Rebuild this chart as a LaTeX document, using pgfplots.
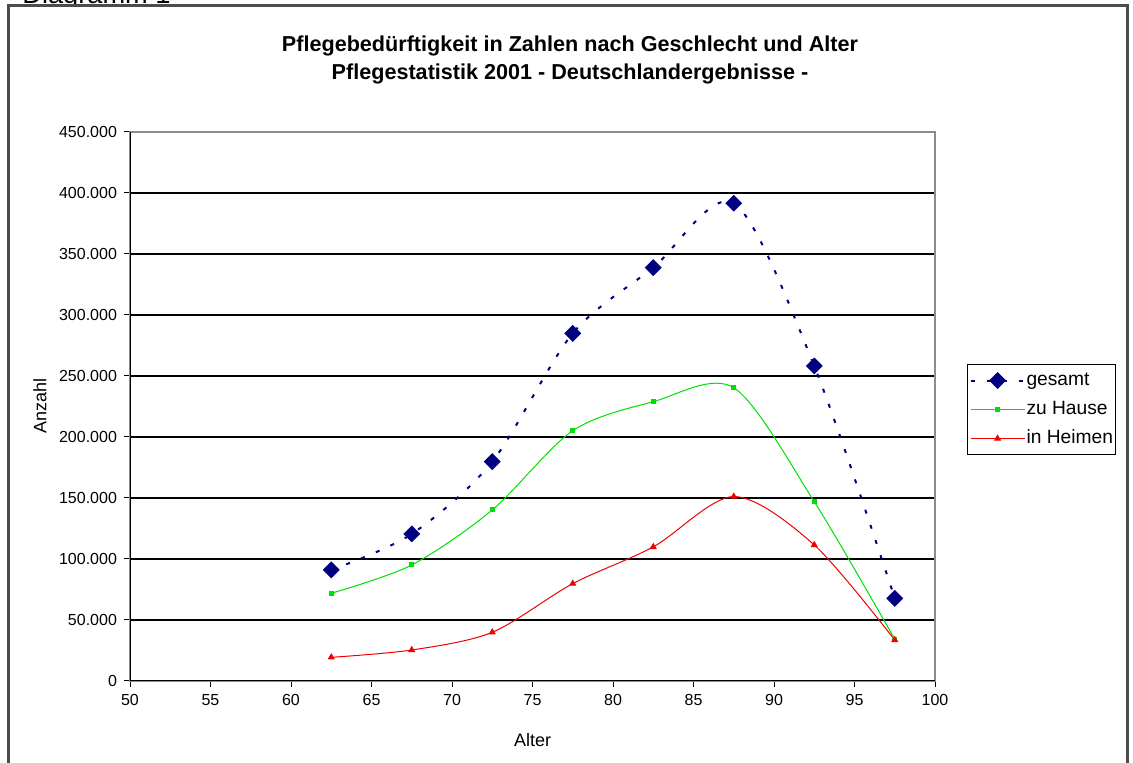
\documentclass[border=0pt]{standalone}
\usepackage{fontspec}
\setmainfont{Liberation Sans}
\usepackage{pgfplots}
\usepackage{pgfplotstable}
\pgfplotsset{compat=1.18}
\definecolor{gesamtblue}{HTML}{000080}
\definecolor{hausegreen}{HTML}{00E000}
\definecolor{heimred}{HTML}{F00000}

% Alter (Klassenmitte), Anzahl Pflegebeduerftige
\pgfplotstableread{
alter gesamt hause heime
62.5  91000  71900  19400
67.5  120500 95100  25400
72.5  179800 140200 39900
77.5  285000 205200 79800
82.5  338800 228900 109900
87.5  391600 240400 151200
92.5  258200 147000 111500
97.5  67800  34200  33600
}\pflege

\begin{document}
\begin{tikzpicture}
\useasboundingbox (0,0) rectangle (566.5pt,381.5pt);
\begin{scope}
\clip (0,0) rectangle (566.5pt,381.5pt);
\node[anchor=base west, inner sep=0, font=\fontsize{13.6}{16}\selectfont] at (11pt,379.5pt) {Diagramm 1};
\end{scope}
\draw[black!70, line width=1.1pt, fill=white] (4.25pt,378.75pt) rectangle (563.75pt,-5pt);

\begin{axis}[
  scale only axis,
  width=402.5pt, height=274.5pt,
  at={(65pt,41pt)}, anchor=south west,
  xmin=50, xmax=100, ymin=0, ymax=450000,
  scaled y ticks=false,
  xtick={50,55,...,100},
  xticklabels={50,55,60,65,70,75,80,85,90,95,100},
  ytick={0,50000,100000,150000,200000,250000,300000,350000,400000,450000},
  yticklabels={0,50.000,100.000,150.000,200.000,250.000,300.000,350.000,400.000,450.000},
  tick pos=left,
  tick align=outside,
  major tick length=3pt,
  every tick/.style={black, line width=0.5pt},
  tick label style={font=\fontsize{8}{9}\selectfont, black},
  ymajorgrids,
  major grid style={black, line width=0.6pt},
  axis line style={draw=black!45, line width=0.6pt},
  legend style={at={(1.0398,0.5774)}, anchor=north west, draw=black, line width=0.5pt,
    font=\fontsize{9.6}{11}\selectfont, inner sep=1pt, row sep=0.5pt,
    nodes={inner xsep=0.5pt, inner ysep=2.6pt, text height=6.8pt, text depth=2pt}},
  legend cell align=left,
  legend image code/.code={\draw[mark repeat=2, mark phase=2, #1] plot coordinates {(0pt,0pt) (13.5pt,0pt) (27pt,0pt)};},
]
\addplot[smooth, gesamtblue, line width=1pt, dash pattern=on 2pt off 6pt,
  mark=square*, mark size=2.5pt, mark options={solid, rotate=45, fill=gesamtblue}]
  table[x=alter, y=gesamt] {\pflege};
\addlegendentry{gesamt}
\addplot[smooth, hausegreen, line width=0.5pt,
  mark=square*, mark size=1pt, mark options={solid, fill=hausegreen}]
  table[x=alter, y=hause] {\pflege};
\addlegendentry{zu Hause}
\addplot[smooth, heimred, line width=0.5pt,
  mark=triangle*, mark size=1.6pt, mark options={solid, fill=heimred}]
  table[x=alter, y=heime] {\pflege};
\addlegendentry{in Heimen}
\draw[black, line width=0.6pt] (rel axis cs:0,1) -- (rel axis cs:0,0) -- (rel axis cs:1,0);
\end{axis}

\node[font=\fontsize{10.8}{12}\selectfont\bfseries] at (285pt,358.5pt) {Pflegebedürftigkeit in Zahlen nach Geschlecht und Alter};
\node[font=\fontsize{10.8}{12}\selectfont\bfseries] at (285pt,344.5pt) {Pflegestatistik 2001 - Deutschlandergebnisse -};
\node[font=\fontsize{9}{10}\selectfont] at (266.25pt,11.5pt) {Alter};
\node[font=\fontsize{9}{10}\selectfont, rotate=90] at (20pt,178.5pt) {Anzahl};
\end{tikzpicture}
\end{document}
